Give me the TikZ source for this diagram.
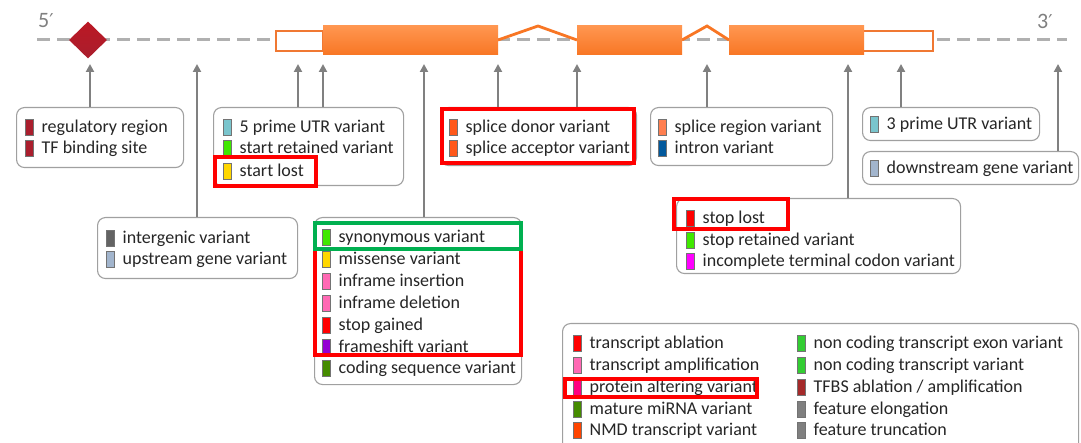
\documentclass[tikz,border=0pt]{standalone}
\usepackage{fontspec}
\setmainfont{Carlito}
\newfontfamily\primefont{DejaVu Sans}
\usetikzlibrary{arrows.meta,shapes.geometric}

\definecolor{txt}{RGB}{38,38,38}
\definecolor{boxline}{RGB}{160,160,160}
\definecolor{arrowgray}{RGB}{128,128,128}
\definecolor{dashgray}{RGB}{176,176,176}
\definecolor{exonlight}{RGB}{255,150,80}
\definecolor{exondark}{RGB}{248,118,36}
\definecolor{exonedge}{RGB}{240,120,50}
\definecolor{hlred}{RGB}{255,0,0}
\definecolor{hlgreen}{RGB}{0,176,80}
\definecolor{regred}{RGB}{170,30,45}
% consequence colours
\definecolor{cUTR}{RGB}{122,197,205}
\definecolor{cgreenA}{RGB}{64,232,0}
\definecolor{cgold}{RGB}{255,215,0}
\definecolor{cinter}{RGB}{99,99,99}
\definecolor{cupdown}{RGB}{162,181,205}
\definecolor{csplice}{RGB}{255,88,26}
\definecolor{cregion}{RGB}{255,127,80}
\definecolor{cintron}{RGB}{2,89,156}
\definecolor{cred}{RGB}{255,0,0}
\definecolor{cmagenta}{RGB}{255,0,255}
\definecolor{cpink}{RGB}{255,105,180}
\definecolor{cpurple}{RGB}{148,0,211}
\definecolor{cdkgreen}{RGB}{69,139,0}
\definecolor{cprot}{RGB}{255,0,128}
\definecolor{cnmd}{RGB}{255,69,0}
\definecolor{cnc}{RGB}{50,205,50}
\definecolor{ctfbs}{RGB}{165,42,42}
\definecolor{cfeat}{RGB}{127,127,127}

% one legend row: name, swatch centre x, row centre y, colour, text
\newcommand\vitem[5]{%
  \node[swatch,fill=#4] (#1s) at (#2,#3) {};
  \node[lbl] (#1) at (#2+12.5,#3) {#5};}

\begin{document}
\begin{tikzpicture}[x=1pt,y=-1pt,
  swatch/.style={rectangle,draw=black!55,line width=0.6pt,inner sep=0pt,
    minimum width=8pt,minimum height=16pt},
  lbl/.style={anchor=west,inner sep=0pt,text height=11pt,text depth=3.5pt,
    yshift=-2pt,font=\fontsize{18}{21}\selectfont,text=txt},
  vbox/.style={draw=boxline,line width=1.1pt,rounded corners=8pt,fill=white,
    anchor=north west,inner sep=0pt},
  arr/.style={draw=arrowgray,line width=2pt,-{Triangle[width=8pt,length=8pt]}},
  hl/.style={draw=hlred,line width=4pt},
  hlg/.style={draw=hlgreen,line width=4pt},
  exon/.style={top color=exonlight,bottom color=exondark,draw=none},
  utr/.style={fill=white,draw=exonedge,line width=1.5pt},
  intron/.style={draw=exondark,line width=2.8pt,line join=miter},
  prime/.style={font=\fontsize{22}{24}\selectfont,text=arrowgray,inner sep=0pt}
]
\clip (0,0) rectangle (1081,443);
\fill[white] (0,0) rectangle (1081,443);

% ---------- gene model ----------
\draw[dashgray,line width=3pt,dash pattern=on 13pt off 7pt] (37,40) -- (1067,40);
\node[prime,anchor=west] (five) at (38,21) {5{\primefont\fontsize{19}{24}\selectfont ′}};
\node[prime,anchor=west] (three) at (1037,21) {3{\primefont\fontsize{19}{24}\selectfont ′}};

\node[diamond,inner sep=0pt,minimum width=38pt,minimum height=37pt,
  top color=regred!80!red,bottom color=regred,draw=none] (reg) at (88,40) {};

\draw[intron] (498,40) -- (538,26) -- (577,40);
\draw[intron] (682,40) -- (707,26) -- (729,40);

\draw[utr] (276,31) rectangle (323,51);
\draw[utr] (863,31) rectangle (933,51);
\shade[exon] (323,26) rectangle (498,55);
\shade[exon] (577,26) rectangle (682,55);
\shade[exon] (729,26) rectangle (864,55);

% ---------- consequence boxes ----------
\node[vbox,minimum width=167pt,minimum height=60pt] (boxA) at (16,107) {};
\node[vbox,minimum width=190pt,minimum height=78pt] (boxB) at (213,107) {};
\node[vbox,minimum width=200pt,minimum height=61pt] (boxC) at (97,217) {};
\node[vbox,minimum width=196pt,minimum height=58pt] (boxD) at (440,107) {};
\node[vbox,minimum width=182pt,minimum height=58pt] (boxE) at (650,107) {};
\node[vbox,minimum width=177pt,minimum height=33pt] (boxF) at (862,107) {};
\node[vbox,minimum width=216pt,minimum height=33pt] (boxG) at (862,151) {};
\node[vbox,minimum width=284pt,minimum height=75pt] (boxH) at (676,198) {};
\node[vbox,minimum width=207pt,minimum height=167pt] (boxI) at (314,217) {};
\node[vbox,minimum width=516pt,minimum height=140pt] (boxJ) at (562,323) {};

\vitem{regreg}{29}{127}{regred}{regulatory region}
\vitem{tfbs}{29}{148}{regred}{TF binding site}

\vitem{utrfive}{227}{127}{cUTR}{5 prime UTR variant}
\vitem{startret}{227}{148}{cgreenA}{start retained variant}
\vitem{startlost}{227}{171}{cgold}{start lost}

\vitem{intergenic}{110}{238}{cinter}{intergenic variant}
\vitem{upstream}{110}{259}{cupdown}{upstream gene variant}

\vitem{donor}{453}{127}{csplice}{splice donor variant}
\vitem{acceptor}{453}{148}{csplice}{splice acceptor variant}

\vitem{sregion}{662}{127}{cregion}{splice region variant}
\vitem{intron}{662}{148}{cintron}{intron variant}

\vitem{utrthree}{874}{124}{cUTR}{3 prime UTR variant}
\vitem{downstream}{874}{168}{cupdown}{downstream gene variant}

\vitem{stoplost}{690}{218}{cred}{stop lost}
\vitem{stopret}{690}{240}{cgreenA}{stop retained variant}
\vitem{incomplete}{690}{261}{cmagenta}{incomplete terminal codon variant}

\vitem{synon}{326}{237}{cgreenA}{synonymous variant}
\vitem{missense}{326}{259}{cgold}{missense variant}
\vitem{insertion}{326}{281}{cpink}{inframe insertion}
\vitem{deletion}{326}{303}{cpink}{inframe deletion}
\vitem{stopgain}{326}{325}{cred}{stop gained}
\vitem{frameshift}{326}{347}{cpurple}{frameshift variant}
\vitem{coding}{326}{368}{cdkgreen}{coding sequence variant}

\vitem{ablation}{577}{343}{cred}{transcript ablation}
\vitem{amplif}{577}{365}{cpink}{transcript amplification}
\vitem{protalt}{577}{387}{cprot}{protein altering variant}
\vitem{mirna}{577}{409}{cdkgreen}{mature miRNA variant}
\vitem{nmd}{577}{430}{cnmd}{NMD transcript variant}
\vitem{ncexon}{801}{343}{cnc}{non coding transcript exon variant}
\vitem{ncvar}{801}{365}{cnc}{non coding transcript variant}
\vitem{tfbsabl}{801}{387}{ctfbs}{TFBS ablation / amplification}
\vitem{elong}{801}{409}{cfeat}{feature elongation}
\vitem{trunc}{801}{430}{cfeat}{feature truncation}

% ---------- connectors from the gene model down to the boxes ----------
\foreach \n/\x in {tA/90,tC/197,tB1/298,tB2/323,tI/424,tD1/498,tD2/577,tE/707,tH/848,tF/901,tG/1058}
  \coordinate (\n) at (\x,64);
\draw[arr] (boxA.north -| tA) -- (tA);
\draw[arr] (boxC.north -| tC) -- (tC);
\draw[arr] (boxB.north -| tB1) -- (tB1);
\draw[arr] (boxB.north -| tB2) -- (tB2);
\draw[arr] (boxI.north -| tI) -- (tI);
\draw[arr] (boxD.north -| tD1) -- (tD1);
\draw[arr] (boxD.north -| tD2) -- (tD2);
\draw[arr] (boxE.north -| tE) -- (tE);
\draw[arr] (boxH.north -| tH) -- (tH);
\draw[arr] (boxF.north -| tF) -- (tF);
\draw[arr] (boxG.north -| tG) -- (tG);

% ---------- highlight frames ----------
\draw[hl] (215,157) rectangle (316,186);
\draw[hl] (442,109) rectangle (634,163);
\draw[hl] (674,199) rectangle (788,229);
\draw[hl] (565,379) rectangle (757,397);
\draw[hl] (315,249) -- (315,355) -- (521,355) -- (521,249);
\draw[hlg] (315,223) rectangle (521,249);
\end{tikzpicture}
\end{document}
